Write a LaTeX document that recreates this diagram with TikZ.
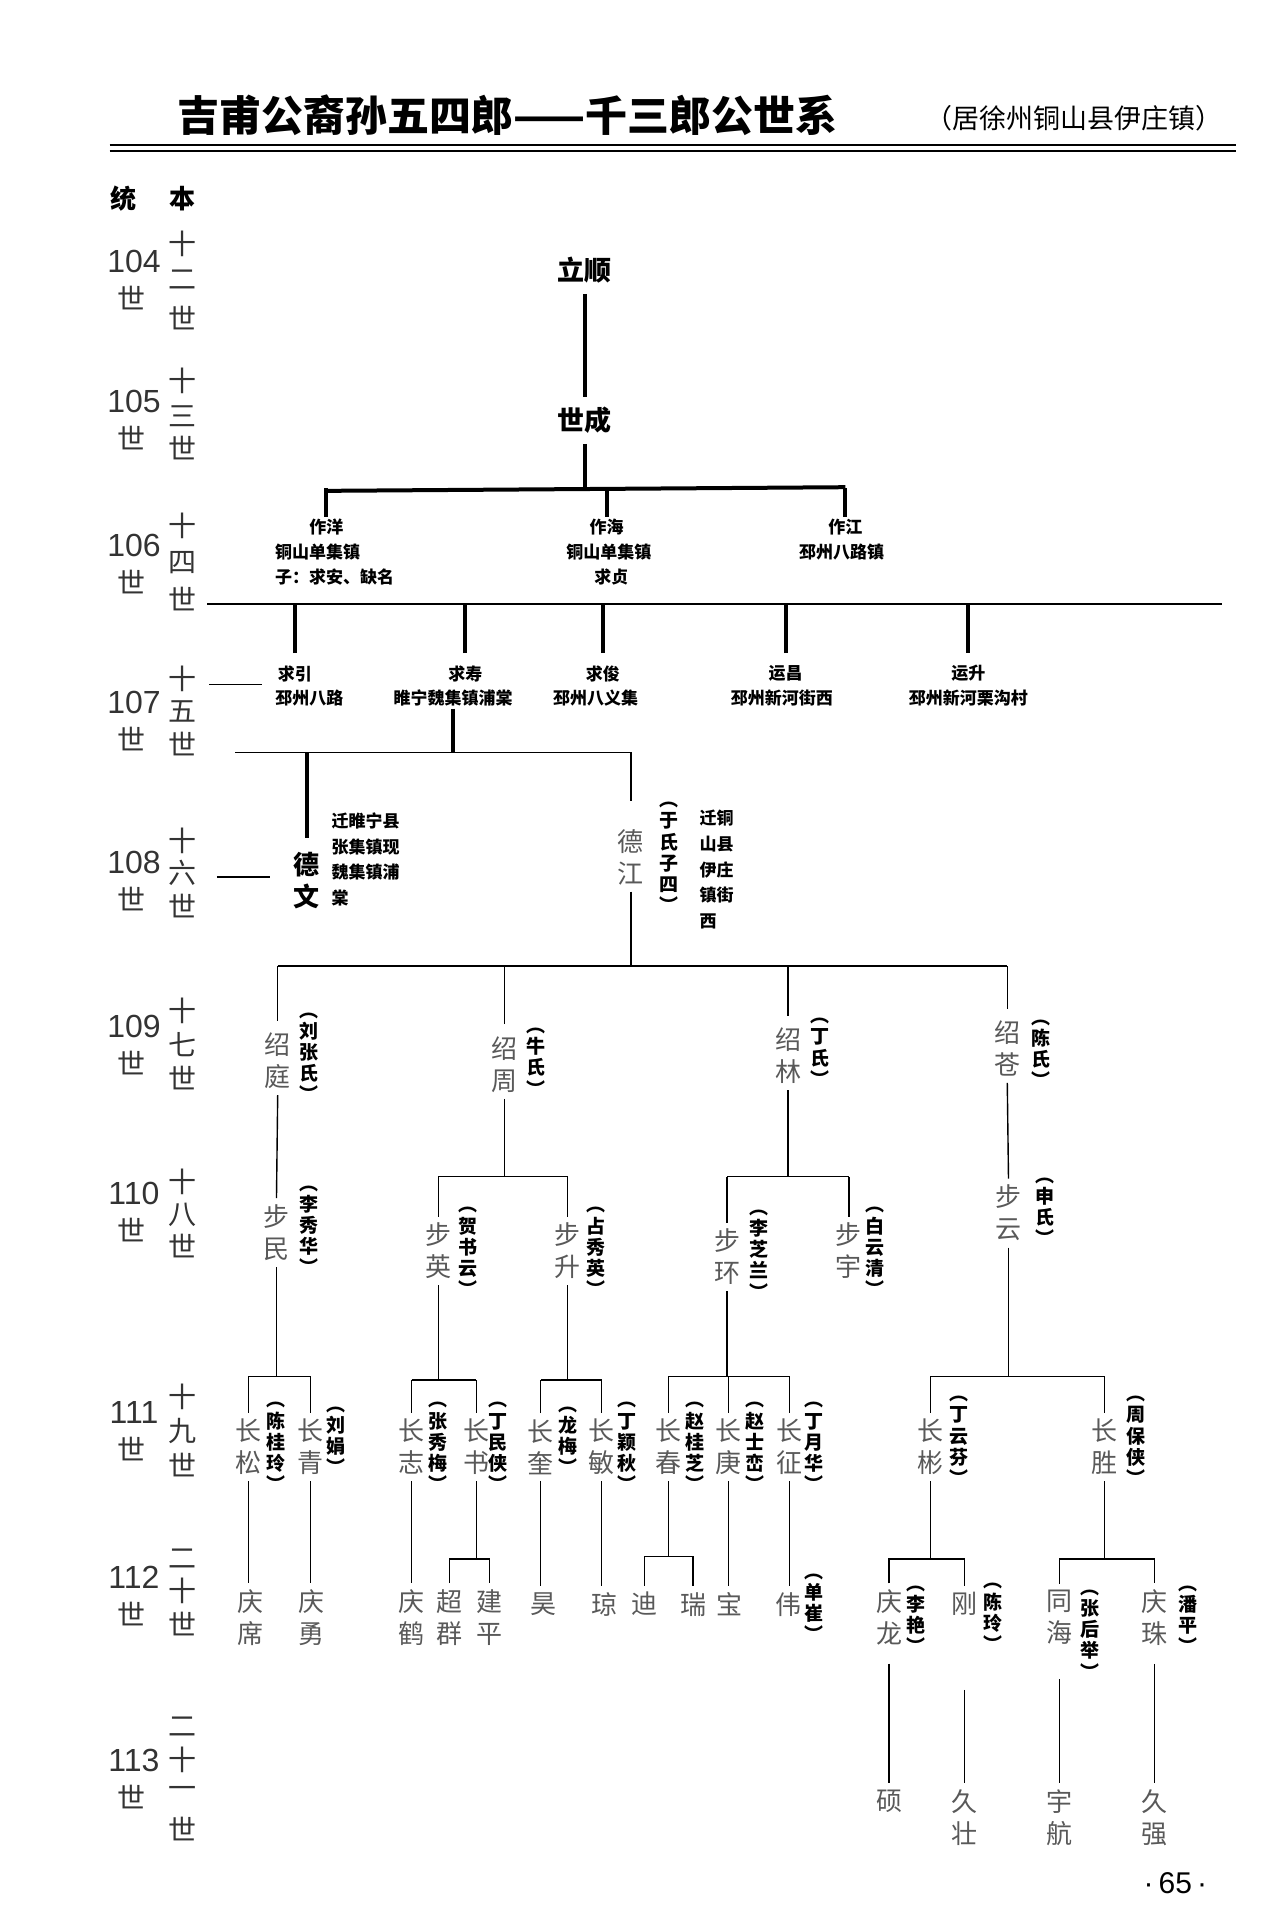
\documentclass[tikz,border=0pt]{standalone}
\usepackage{fontspec}
\newfontfamily\cjk{Noto Sans CJK SC}
\newfontfamily\num{Liberation Sans}
\begin{document}
\begin{tikzpicture}[x=0.609pt,y=-0.609pt,
  w3/.style={line width=2pt},
  w2/.style={line width=1pt},
  w1/.style={line width=0.7pt},
  big/.style={font=\cjk\bfseries\fontsize{13.5}{15}\selectfont,inner sep=5pt},
  info/.style={font=\cjk\bfseries\fontsize{8.5}{10}\selectfont,inner sep=1pt},
  nm/.style={font=\cjk\fontsize{13}{16}\selectfont,text=black!65,align=center,inner sep=3pt},
  sp/.style={font=\cjk\bfseries\fontsize{9.5}{10.6}\selectfont,align=center,inner sep=0pt},
  gn/.style={font=\num\fontsize{16}{16}\selectfont,text=black!80,inner sep=0pt},
  gc/.style={font=\cjk\fontsize{14}{14}\selectfont,text=black!80,inner sep=0pt},
  vt/.style={font=\cjk\bfseries\fontsize{8.5}{12.8}\selectfont,align=left,anchor=north west,inner sep=0pt}]
\useasboundingbox (0,0) rectangle (1050,1565.7);
% header
\node[font=\cjk\bfseries\fontsize{21}{21}\selectfont] (title) at (417,95) {吉甫公裔孙五四郎——千三郎公世系};
\node[font=\cjk\fontsize{13.5}{14}\selectfont] (sub) at (882,97) {（居徐州铜山县伊庄镇）};
\coordinate (h1) at (90,119); \coordinate (h2) at (1015,119);
\coordinate (h3) at (90,124); \coordinate (h4) at (1015,124);
\draw[line width=1.4pt] (h1) -- (h2);
\draw[line width=0.6pt] (h3) -- (h4);
\node[font=\cjk\bfseries\fontsize{13}{13}\selectfont] (tong) at (101,163) {统};
\node[font=\cjk\bfseries\fontsize{13}{13}\selectfont] (ben) at (150,163) {本};
% generation column
\foreach \n/\y in {104/215,105/330,106/448,107/577,108/708,109/843,110/980,111/1160,112/1295,113/1445}{
  \node[gn] (g\n) at (110,\y) {\n};
  \node[gc] (gs\n) at (108,\y+30) {世};
}
\node[gc] (c1a) at (150,200) {十};\node[gc] (c1b) at (150,230) {二};\node[gc] (c1c) at (150,261) {世};
\node[gc] (c2a) at (150,313) {十};\node[gc] (c2b) at (150,342) {三};\node[gc] (c2c) at (150,368) {世};
\node[gc] (c3a) at (150,432) {十};\node[gc] (c3b) at (150,462) {四};\node[gc] (c3c) at (150,492) {世};
\node[gc] (c4a) at (150,557) {十};\node[gc] (c4b) at (150,584) {五};\node[gc] (c4c) at (150,611) {世};
\node[gc] (c5a) at (150,690) {十};\node[gc] (c5b) at (150,717) {六};\node[gc] (c5c) at (150,744) {世};
\node[gc] (c6a) at (150,830) {十};\node[gc] (c6b) at (150,858) {七};\node[gc] (c6c) at (150,885) {世};
\node[gc] (c7a) at (150,970) {十};\node[gc] (c7b) at (150,997) {八};\node[gc] (c7c) at (150,1023) {世};
\node[gc] (c8a) at (150,1147) {十};\node[gc] (c8b) at (150,1175) {九};\node[gc] (c8c) at (150,1203) {世};
\node[gc] (c9a) at (150,1280) {二};\node[gc] (c9b) at (150,1306) {十};\node[gc] (c9c) at (150,1333) {世};
\node[gc] (c10a) at (150,1418) {二};\node[gc] (c10b) at (150,1445) {十};\node[gc] (c10c) at (150,1472) {一};\node[gc] (c10d) at (150,1502) {世};
% 104-106
\node[big] (lishun) at (480,222) {立顺};
\node[big] (shicheng) at (480,345) {世成};
\draw[w3] (lishun.south) -- (shicheng.north);
\node[info] (zuoyang) at (268,433) {作洋};
\node[info,anchor=west] (zy1) at (224,453) {铜山单集镇};
\node[info,anchor=west] (zy2) at (224,474) {子：求安、缺名};
\node[info] (zuohai) at (498,433) {作海};
\node[info] (zh1) at (500,453) {铜山单集镇};
\node[info] (zh2) at (502,474) {求贞};
\node[info] (zuojiang) at (694,433) {作江};
\node[info] (zj1) at (691,453) {邳州八路镇};
\draw[w3] (shicheng.south) -- (shicheng.south |- 0,402);
\draw[w3] (zuoyang.north |- 0,403) -- (zuojiang.north |- 0,400);
\foreach \n in {zuoyang,zuohai,zuojiang} \draw[w3] (\n.north) -- (\n.north |- 0,401);
% 107
\coordinate (la) at (170,496); \coordinate (lb) at (1003,496);
\draw[w2] (la) -- (lb);
\node[info] (qiuyin) at (242,553) {求引};\node[info] (qy1) at (254,573) {邳州八路};
\node[info] (qiushou) at (382,553) {求寿};\node[info] (qs1) at (372,573) {睢宁魏集镇浦棠};
\node[info] (qiujun) at (495,553) {求俊};\node[info] (qj1) at (489,573) {邳州八义集};
\node[info] (yunchang) at (645,553) {运昌};\node[info] (yc1) at (642,573) {邳州新河街西};
\node[info] (yunsheng) at (795,553) {运升};\node[info] (ys1) at (795,573) {邳州新河栗沟村};
\foreach \n in {qiuyin,qiushou,qiujun,yunchang,yunsheng} \draw[w3] ([yshift=5pt]\n.north) -- (\n.north |- 0,496);
\coordinate (d1a) at (172,562); \coordinate (d1b) at (215,562);
\draw[w1] (d1a) -- (d1b);
% 108
\node[font=\cjk\bfseries\fontsize{13}{16}\selectfont,align=center,inner sep=3pt] (dewen) at (252,723) {德\\文};
\node[vt] (dw1) at (272,667) {迁睢宁县\\张集镇现\\魏集镇浦\\棠};
\node[nm] (dejiang) at (518,704) {德\\江};
\node[sp] (djs) at (549,704) {︵\\于\\氏\\子\\四\\︶};
\node[vt] (dj1) at (574,665) {迁铜\\山县\\伊庄\\镇街\\西};
\draw[w3] (qs1.south) -- (qs1.south |- 0,618);
\coordinate (b108a) at (193,618);
\draw[w1] (b108a) -- (dejiang.north |- 0,618) -- ([yshift=11pt]dejiang.north);
\draw[w3] ([yshift=4pt]dewen.north) -- (dewen.north |- 0,618);
\coordinate (d2a) at (178,720); \coordinate (d2b) at (222,720);
\draw[w1] (d2a) -- (d2b);
% 109
\node[nm] (shaoting) at (228,871) {绍\\庭};\node[sp] (sts) at (254,868) {︵\\刘\\张\\氏\\︶};
\node[nm] (shaozhou) at (414,874) {绍\\周};\node[sp] (szs) at (440,872) {︵\\牛\\氏\\︶};
\node[nm] (shaolin) at (647,867) {绍\\林};\node[sp] (sls) at (673,864) {︵\\丁\\氏\\︶};
\node[nm] (shaocang) at (827,861) {绍\\苍};\node[sp] (scs) at (855,865) {︵\\陈\\氏\\︶};
\draw[w1] (dejiang.south) -- (dejiang.south |- 0,793);
\draw[w1] (shaoting.north |- 0,793) -- (shaocang.north |- 0,793);
\foreach \n in {shaoting,shaozhou,shaolin,shaocang} \draw[w1] ([yshift=3pt]\n.north) -- (\n.north |- 0,793);
% 110
\node[nm] (bumin) at (227,1012) {步\\民};\node[sp] (bms) at (254,1010) {︵\\李\\秀\\华\\︶};
\node[nm] (buying) at (360,1027) {步\\英};\node[sp] (bys) at (384,1028) {︵\\贺\\书\\云\\︶};
\node[nm] (busheng) at (466,1027) {步\\升};\node[sp] (bss) at (489,1028) {︵\\占\\秀\\英\\︶};
\node[nm] (buhuan) at (597,1032) {步\\环};\node[sp] (bhs) at (623,1030) {︵\\李\\芝\\兰\\︶};
\node[nm] (buyu) at (697,1027) {步\\宇};\node[sp] (byus) at (718,1028) {︵\\白\\云\\清\\︶};
\node[nm] (buyun) at (828,996) {步\\云};\node[sp] (byns) at (858,995) {︵\\申\\氏\\︶};
\draw[w1] (shaoting.south) -- (bumin.north);
\draw[w1] (shaozhou.south) -- (shaozhou.south |- 0,966);
\draw[w1] (buying.north |- 0,966) -- (busheng.north |- 0,966);
\foreach \n in {buying,busheng} \draw[w1] (\n.north) -- (\n.north |- 0,966);
\draw[w1] (shaolin.south) -- (shaolin.south |- 0,966);
\draw[w1] (buhuan.north |- 0,966) -- (buyu.north |- 0,966);
\foreach \n in {buhuan,buyu} \draw[w1] (\n.north) -- (\n.north |- 0,966);
\draw[w1] (shaocang.south) -- (buyun.north);
% 111
\node[nm] (csong) at (204,1188) {长\\松};\node[sp] (css) at (227,1188) {︵\\陈\\桂\\玲\\︶};
\node[nm] (cqing) at (255,1188) {长\\青};\node[sp] (cqs) at (276,1183) {︵\\刘\\娟\\︶};
\node[nm] (czhi) at (338,1188) {长\\志};\node[sp] (czs) at (360,1188) {︵\\张\\秀\\梅\\︶};
\node[nm] (cshu) at (391,1188) {长\\书};\node[sp] (cshs) at (409,1188) {︵\\丁\\民\\侠\\︶};
\node[nm] (ckui) at (444,1188) {长\\奎};\node[sp] (cks) at (466,1183) {︵\\龙\\梅\\︶};
\node[nm] (cmin) at (494,1188) {长\\敏};\node[sp] (cms) at (515,1188) {︵\\丁\\颖\\秋\\︶};
\node[nm] (cchun) at (549,1188) {长\\春};\node[sp] (ccs) at (571,1188) {︵\\赵\\桂\\芝\\︶};
\node[nm] (cgeng) at (598,1188) {长\\庚};\node[sp] (cgs) at (620,1188) {︵\\赵\\士\\峦\\︶};
\node[nm] (czheng) at (648,1188) {长\\征};\node[sp] (czgs) at (668,1188) {︵\\丁\\月\\华\\︶};
\node[nm] (cbin) at (764,1188) {长\\彬};\node[sp] (cbs) at (787,1183) {︵\\丁\\云\\芬\\︶};
\node[nm] (csheng) at (907,1188) {长\\胜};\node[sp] (cshgs) at (933,1183) {︵\\周\\保\\侠\\︶};
\draw[w1] (bumin.south) -- (bumin.south |- 0,1130);
\draw[w1] (csong.north |- 0,1130) -- (cqing.north |- 0,1130);
\foreach \n in {csong,cqing} \draw[w1] (\n.north) -- (\n.north |- 0,1130);
\draw[w1] (buying.south) -- (buying.south |- 0,1133);
\draw[w1] (czhi.north |- 0,1133) -- (cshu.north |- 0,1133);
\foreach \n in {czhi,cshu} \draw[w1] (\n.north) -- (\n.north |- 0,1133);
\draw[w1] (busheng.south) -- (busheng.south |- 0,1133);
\draw[w1] (ckui.north |- 0,1133) -- (cmin.north |- 0,1133);
\foreach \n in {ckui,cmin} \draw[w1] (\n.north) -- (\n.north |- 0,1133);
\draw[w1] (buhuan.south) -- (buhuan.south |- 0,1130);
\draw[w1] (cchun.north |- 0,1130) -- (czheng.north |- 0,1130);
\foreach \n in {cchun,cgeng,czheng} \draw[w1] (\n.north) -- (\n.north |- 0,1130);
\draw[w1] (buyun.south) -- (buyun.south |- 0,1130);
\draw[w1] (cbin.north |- 0,1130) -- (csheng.north |- 0,1130);
\foreach \n in {cbin,csheng} \draw[w1] (\n.north) -- (\n.north |- 0,1130);
% 112
\node[nm] (qxi) at (206,1328) {庆\\席};
\node[nm] (qyong) at (256,1328) {庆\\勇};
\node[nm] (qhe) at (338,1328) {庆\\鹤};
\node[nm] (chaoqun) at (369,1328) {超\\群};
\node[nm] (jianping) at (402,1328) {建\\平};
\node[nm,anchor=north] (hao) at (446,1302) {昊};
\node[nm,anchor=north] (qiong) at (496,1302) {琼};
\node[nm,anchor=north] (di) at (529,1302) {迪};
\node[nm,anchor=north] (rui) at (569,1302) {瑞};
\node[nm,anchor=north] (bao) at (599,1302) {宝};
\node[nm,anchor=north] (wei) at (647,1302) {伟};\node[sp] (weis) at (668,1320) {︵\\单\\崔\\︶};
\node[nm] (qlong) at (730,1328) {庆\\龙};\node[sp] (qls) at (752,1330) {︵\\李\\艳\\︶};
\node[nm,anchor=north] (gang) at (792,1302) {刚};\node[sp] (gs) at (815,1328) {︵\\陈\\玲\\︶};
\node[nm] (tonghai) at (870,1328) {同\\海};\node[sp] (ths) at (895,1342) {︵\\张\\后\\举\\︶};
\node[nm] (qzhu) at (948,1328) {庆\\珠};\node[sp] (qzs) at (975,1330) {︵\\潘\\平\\︶};
\draw[w1] (csong.south) -- (qxi.north -| csong.south);
\draw[w1] (cqing.south) -- (qyong.north -| cqing.south);
\draw[w1] (czhi.south) -- (qhe.north -| czhi.south);
\draw[w1] (cshu.south) -- (cshu.south |- 0,1280);
\draw[w1] (chaoqun.north) -- (chaoqun.north |- 0,1280) -- (jianping.north |- 0,1280) -- (jianping.north);
\draw[w1] (ckui.south) -- (hao.north -| ckui.south);
\draw[w1] (cmin.south) -- (qiong.north -| cmin.south);
\draw[w1] (cchun.south) -- (cchun.south |- 0,1278);
\draw[w1] (di.north) -- (di.north |- 0,1278) -- (rui.north |- 0,1278) -- (rui.north);
\draw[w1] (cgeng.south) -- (bao.north -| cgeng.south);
\draw[w1] (czheng.south) -- (wei.north -| czheng.south);
\draw[w1] (cbin.south) -- (cbin.south |- 0,1280);
\draw[w1] (qlong.north) -- (qlong.north |- 0,1280) -- (gang.north |- 0,1280) -- (gang.north);
\draw[w1] (csheng.south) -- (csheng.south |- 0,1280);
\draw[w1] (tonghai.north) -- (tonghai.north |- 0,1280) -- (qzhu.north |- 0,1280) -- (qzhu.north);
% 113
\node[nm,anchor=north] (shuo) at (730,1464) {硕};
\node[nm,anchor=north] (jiuzhuang) at (792,1464) {久\\壮};
\node[nm,anchor=north] (yuhang) at (870,1464) {宇\\航};
\node[nm,anchor=north] (jiuqiang) at (948,1464) {久\\强};
\draw[w1] ([yshift=-6pt]qlong.south) -- (shuo.north);
\draw[w1] ([yshift=-34pt]gang.south) -- (jiuzhuang.north);
\draw[w1] ([yshift=-14pt]tonghai.south) -- (yuhang.north);
\draw[w1] ([yshift=-6pt]qzhu.south) -- (jiuqiang.north);
\node[font=\num\fontsize{15}{15}\selectfont] (page) at (965,1546) {·\,65\,·};
\end{tikzpicture}
\end{document}
